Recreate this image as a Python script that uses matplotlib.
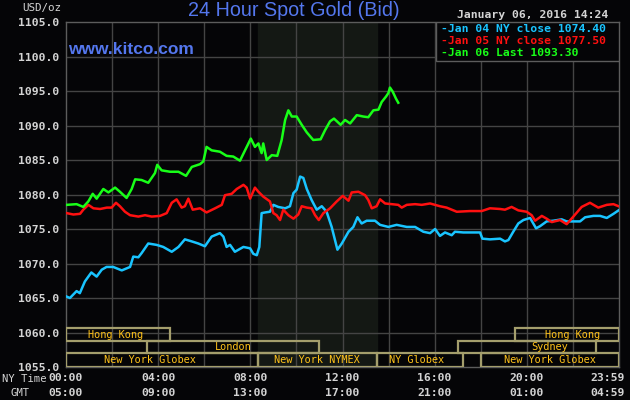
import matplotlib
matplotlib.use('Agg')
import matplotlib.pyplot as plt
import matplotlib.patches as patches
import matplotlib.transforms as mtrans

# hours after 00:00 NY time, bid in USD/oz
jan04_hours = [0.03, 0.17, 0.46, 0.6, 0.82, 1.1, 1.33, 1.55, 1.76, 2.05, 2.42, 2.78, 2.92, 3.14, 3.28,
               3.57, 3.93, 4.22, 4.59, 4.88, 5.16, 5.46, 5.74, 6.03, 6.32, 6.68, 6.83, 6.97, 7.12, 7.33,
               7.7, 7.99, 8.13, 8.28, 8.39, 8.49, 8.64, 8.85, 9.0, 9.21, 9.51, 9.72, 9.87, 10.01, 10.16,
               10.3, 10.45, 10.66, 10.88, 11.1, 11.31, 11.53, 11.78, 11.97, 12.26, 12.47, 12.65, 12.83,
               13.05, 13.41, 13.63, 13.99, 14.35, 14.79, 15.15, 15.51, 15.8, 16.02, 16.23, 16.45, 16.74,
               16.88, 17.24, 17.97, 18.07, 18.4, 18.84, 19.05, 19.2, 19.41, 19.63, 19.85, 20.14, 20.28,
               20.4, 20.57, 20.86, 21.15, 21.51, 21.73, 22.02, 22.31, 22.53, 22.89, 23.18, 23.47, 23.76,
               23.98]
jan04_price = [1065.2, 1065.0, 1066.0, 1065.7, 1067.4, 1068.7, 1068.1, 1069.1, 1069.5, 1069.5, 1069.0,
               1069.5, 1071.0, 1070.9, 1071.5, 1072.9, 1072.7, 1072.4, 1071.7, 1072.4, 1073.5, 1073.2,
               1072.9, 1072.5, 1073.9, 1074.4, 1073.9, 1072.4, 1072.7, 1071.7, 1072.4, 1072.2, 1071.4,
               1071.2, 1072.4, 1077.3, 1077.4, 1077.5, 1078.5, 1078.2, 1078.0, 1078.3, 1080.2, 1080.7,
               1082.6, 1082.4, 1080.8, 1079.2, 1077.8, 1078.3, 1077.5, 1075.3, 1072.0, 1072.9, 1074.6,
               1075.3, 1076.7, 1075.8, 1076.2, 1076.2, 1075.6, 1075.3, 1075.6, 1075.3, 1075.3, 1074.6,
               1074.4, 1075.0, 1074.0, 1074.5, 1074.1, 1074.6, 1074.5, 1074.5, 1073.6, 1073.5, 1073.6,
               1073.2, 1073.4, 1074.6, 1075.8, 1076.3, 1076.6, 1075.8, 1075.1, 1075.4, 1076.1, 1076.2,
               1076.4, 1076.1, 1076.1, 1076.1, 1076.7, 1076.9, 1076.9, 1076.6, 1077.2, 1077.7]

jan05_hours = [0.03, 0.32, 0.61, 0.75, 0.97, 1.19, 1.48, 1.77, 1.98, 2.17, 2.34, 2.56, 2.78, 3.14, 3.43,
               3.72, 4.08, 4.37, 4.59, 4.8, 5.02, 5.16, 5.31, 5.5, 5.82, 6.1, 6.47, 6.76, 6.9, 7.19, 7.41,
               7.7, 7.84, 7.99, 8.2, 8.35, 8.56, 8.85, 9.0, 9.14, 9.29, 9.43, 9.65, 9.87, 10.08, 10.23,
               10.45, 10.66, 10.81, 10.97, 11.17, 11.46, 11.75, 12.01, 12.26, 12.4, 12.69, 12.98, 13.12,
               13.27, 13.48, 13.63, 13.85, 14.14, 14.42, 14.57, 14.79, 15.15, 15.44, 15.8, 16.23, 16.52,
               16.96, 17.53, 18.04, 18.4, 18.84, 19.05, 19.34, 19.63, 19.99, 20.21, 20.36, 20.65, 20.86,
               21.08, 21.44, 21.73, 22.02, 22.38, 22.74, 23.1, 23.47, 23.76, 23.98]
jan05_price = [1077.3, 1077.1, 1077.2, 1077.8, 1078.5, 1078.0, 1077.9, 1078.1, 1078.1, 1078.8, 1078.3,
               1077.5, 1077.0, 1076.8, 1077.0, 1076.8, 1076.9, 1077.3, 1078.8, 1079.3, 1078.1, 1078.3,
               1079.4, 1077.8, 1078.0, 1077.4, 1078.0, 1078.5, 1079.9, 1080.1, 1080.8, 1081.4, 1081.0,
               1079.4, 1081.0, 1080.4, 1079.7, 1079.0, 1077.3, 1077.0, 1076.3, 1077.8, 1077.0, 1076.5,
               1077.1, 1078.3, 1078.1, 1078.0, 1077.0, 1076.3, 1077.3, 1078.0, 1079.0, 1079.8, 1079.1,
               1080.3, 1080.4, 1079.9, 1079.2, 1078.0, 1078.3, 1079.3, 1078.7, 1078.6, 1078.5, 1078.1,
               1078.5, 1078.6, 1078.5, 1078.7, 1078.3, 1078.1, 1077.5, 1077.6, 1077.6, 1078.0, 1077.9,
               1077.8, 1078.2, 1077.7, 1077.5, 1077.0, 1076.2, 1076.9, 1076.5, 1076.0, 1076.3, 1075.7,
               1076.8, 1078.2, 1078.8, 1078.1, 1078.5, 1078.6, 1078.3]

jan06_hours = [0.03, 0.46, 0.75, 0.97, 1.16, 1.33, 1.62, 1.84, 2.13, 2.34, 2.63, 2.85, 3.0, 3.28, 3.57,
               3.86, 3.96, 4.15, 4.51, 4.88, 5.21, 5.46, 5.82, 5.96, 6.1, 6.32, 6.68, 6.97, 7.26, 7.55,
               7.77, 8.02, 8.2, 8.35, 8.49, 8.56, 8.71, 8.93, 9.17, 9.36, 9.51, 9.65, 9.8, 10.01, 10.23,
               10.45, 10.73, 11.05, 11.24, 11.46, 11.63, 11.92, 12.11, 12.33, 12.62, 12.9, 13.12, 13.34,
               13.56, 13.7, 13.89, 13.99, 14.06, 14.18, 14.32, 14.42]
jan06_price = [1078.5, 1078.6, 1078.2, 1079.0, 1080.1, 1079.4, 1080.8, 1080.3, 1081.0, 1080.4, 1079.5,
               1080.8, 1082.2, 1082.1, 1081.7, 1083.1, 1084.3, 1083.5, 1083.3, 1083.3, 1082.7, 1084.0,
               1084.4, 1084.8, 1086.9, 1086.4, 1086.2, 1085.6, 1085.5, 1084.9, 1086.4, 1088.1, 1086.9,
               1087.4, 1086.0, 1087.4, 1085.0, 1085.7, 1085.6, 1087.9, 1090.8, 1092.2, 1091.3, 1091.3,
               1090.1, 1089.0, 1087.9, 1088.0, 1089.3, 1090.6, 1091.0, 1090.1, 1090.8, 1090.3, 1091.5,
               1091.3, 1091.2, 1092.2, 1092.3, 1093.4, 1094.2, 1094.7, 1095.5, 1094.9, 1093.9, 1093.3]

legend_lines = ['-Jan 04 NY close 1074.40', '-Jan 05 NY close 1077.50', '-Jan 06 Last 1093.30']
y_ticks = [1055, 1060, 1065, 1070, 1075, 1080, 1085, 1090, 1095, 1100, 1105]
ny_hours = [0, 4, 8, 12, 16, 20, 23.98]
ny_labels = ['00:00', '04:00', '08:00', '12:00', '16:00', '20:00', '23:59']
gmt_labels = ['05:00', '09:00', '13:00', '17:00', '21:00', '01:00', '04:59']

# market sessions: name, start hour, end hour, row (0 = top), label hour
sess_name = ['Hong Kong', 'Hong Kong', 'London', 'Sydney', 'New York Globex', 'New York NYMEX',
             'NY Globex', 'New York Globex']
sess_start = [0, 19.5, 3.5, 17.0, 0, 8.33, 13.5, 18.0]
sess_end = [4.5, 24, 11.0, 23.0, 8.33, 13.5, 17.25, 24]
sess_row = [0, 0, 1, 1, 2, 2, 2, 2]
sess_label_at = [2.15, 22.0, 7.25, 21.0, 3.65, 10.9, 15.2, 21.0]
nymex_open, nymex_close = 8.33, 13.5

BG = '#050507'
GRID = '#444444'
MONO = 'DejaVu Sans Mono'
TXT = '#d4d4d4'
BLUE = '#5477ee'
SESS_EDGE = '#a49e6c'
SESS_TXT = '#ffc21a'
LINE_COLORS = ['#19c4ff', '#ff1010', '#18ff18']

fig = plt.figure(figsize=(6.3, 4.0), dpi=100, facecolor=BG)
ax = fig.add_axes([66 / 630, 33 / 400, 553 / 630, 345 / 400])
ax.set_facecolor(BG)
ax.set_xlim(0, 24)
ax.set_ylim(1055, 1105)

ax.axvspan(nymex_open, nymex_close, color='#141814', zorder=0)
for h in range(2, 24, 2):
    ax.axvline(h, color=GRID, lw=1.0, zorder=1)
for v in y_ticks[1:-1]:
    ax.axhline(v, color=GRID, lw=1.0, zorder=1)
for s in ax.spines.values():
    s.set_color('#5c5c5c')
    s.set_linewidth(1.0)

ax.set_yticks(y_ticks)
ax.set_yticklabels([f'{v:.1f}' for v in y_ticks], family=MONO, fontsize=8.2,
                   fontweight='bold', color=TXT)
ax.tick_params(axis='y', length=0, pad=5)
ax.set_xticks([])

ax.plot(jan04_hours, jan04_price, color=LINE_COLORS[0], lw=1.8, zorder=4)
ax.plot(jan05_hours, jan05_price, color=LINE_COLORS[1], lw=1.8, zorder=4)
ax.plot(jan06_hours, jan06_price, color=LINE_COLORS[2], lw=1.8, zorder=5)

# session bands at the bottom
row_edges = [1060.6, 1058.8, 1057.0, 1055.0]
for name, a, b, r, lab in zip(sess_name, sess_start, sess_end, sess_row, sess_label_at):
    top, bot = row_edges[r], row_edges[r + 1]
    ax.add_patch(patches.Rectangle((a, bot), b - a, top - bot, fill=False,
                                   edgecolor=SESS_EDGE, lw=1.6, zorder=3))
    ax.text(lab, (top + bot) / 2, name, ha='center', va='center', family=MONO,
            fontsize=7.4, color=SESS_TXT, zorder=6)

# legend box, top right
ax.add_patch(patches.Rectangle(((436 - 66) / 553, 1 - 39 / 345), (619 - 436) / 553, 39 / 345,
                               transform=ax.transAxes, facecolor=BG, edgecolor='#5c5c5c',
                               lw=1.0, zorder=7))
for i, (t, c) in enumerate(zip(legend_lines, LINE_COLORS)):
    ax.text((441 - 66) / 553, 1 - (7 + 12.2 * i) / 345, t, transform=ax.transAxes,
            ha='left', va='center', family=MONO, fontsize=8.2, fontweight='bold', color=c, zorder=8)

# x labels, two rows (NY time / GMT)
tr = mtrans.blended_transform_factory(ax.transData, fig.transFigure)
for h, ny, gmt in zip(ny_hours, ny_labels, gmt_labels):
    xh = h if h < 23 else 23.5
    ax.text(xh, (400 - 378) / 400, ny, transform=tr, ha='center', va='center', family=MONO,
            fontsize=8.2, fontweight='bold', color=TXT, clip_on=False)
    ax.text(xh, (400 - 393) / 400, gmt, transform=tr, ha='center', va='center', family=MONO,
            fontsize=8.2, fontweight='bold', color=TXT, clip_on=False)
fig.text(24 / 630, (400 - 379) / 400, 'NY Time', ha='center', va='center', family=MONO,
         fontsize=7.6, color=TXT)
fig.text(20 / 630, (400 - 393) / 400, 'GMT', ha='center', va='center', family=MONO,
         fontsize=7.6, color=TXT)

fig.text(42 / 630, (400 - 8) / 400, 'USD/oz', ha='center', va='center', family=MONO,
         fontsize=7.8, color=TXT)
fig.text(294 / 630, (400 - 11) / 400, '24 Hour Spot Gold (Bid)', ha='center', va='center',
         family='Liberation Sans', fontsize=14.2, color=BLUE)
fig.text(608 / 630, (400 - 15) / 400, 'January 06, 2016 14:24', ha='right', va='center',
         family=MONO, fontsize=8.2, fontweight='bold', color=TXT)
ax.text(2 / 553, 1 - 27 / 345, 'www.kitco.com', transform=ax.transAxes, ha='left',
        va='center', family='Liberation Sans', fontsize=12.5, fontweight='bold', color=BLUE, zorder=8)

fig.savefig('out.png', dpi=100, facecolor=BG)
